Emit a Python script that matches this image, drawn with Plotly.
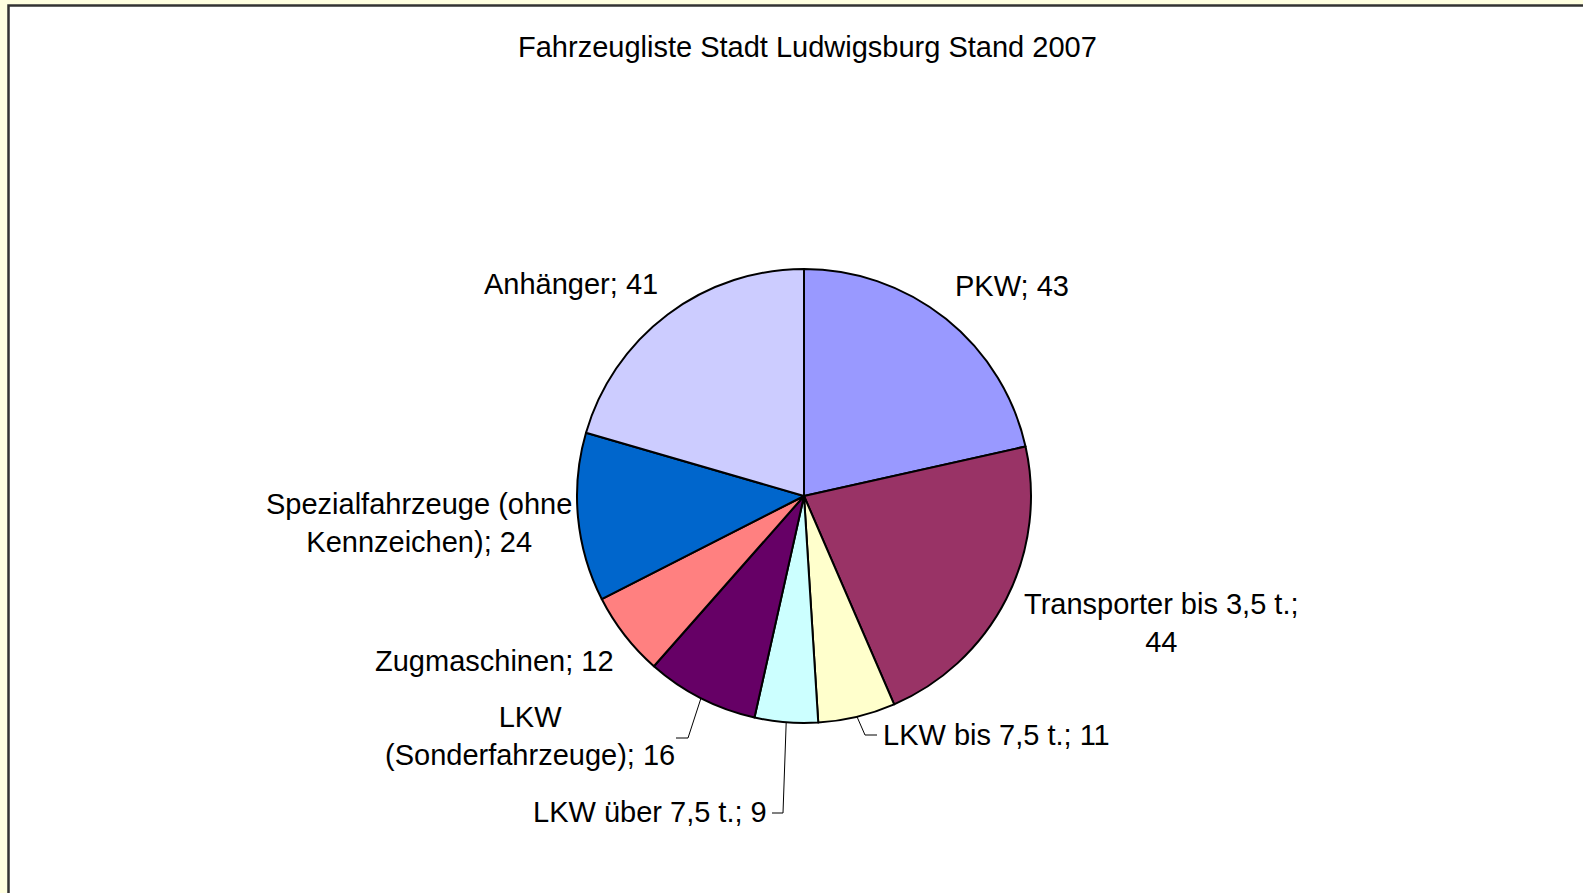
import math
import plotly.graph_objects as go

W, H = 1583, 893

categories = ["PKW", "Transporter bis 3,5 t.", "LKW bis 7,5 t.", "LKW über 7,5 t.",
              "LKW (Sonderfahrzeuge)", "Zugmaschinen", "Spezialfahrzeuge (ohne Kennzeichen)", "Anhänger"]
values = [43, 44, 11, 9, 16, 12, 24, 41]
label_texts = ["PKW; 43", "Transporter bis 3,5 t.;<br>44", "LKW bis 7,5 t.; 11", "LKW über 7,5 t.; 9",
               "LKW<br>(Sonderfahrzeuge); 16", "Zugmaschinen; 12", "Spezialfahrzeuge (ohne<br>Kennzeichen); 24",
               "Anhänger; 41"]
colors = ["#9999FF", "#993366", "#FFFFCC", "#CCFFFF", "#660066", "#FF8080", "#0066CC", "#CCCCFF"]
title = "Fahrzeugliste Stadt Ludwigsburg Stand 2007"

# pie geometry (pixels)
CX, CY, R = 804, 496, 227

def px(x):
    return x / W

def py(y):
    return 1 - y / H

# label anchor positions (pixels) and anchors
label_pos = [
    (953, 286, "left"),
    (1161, 623, "center"),
    (881, 735, "left"),
    (769, 812, "right"),
    (530, 736, "center"),
    (494, 661, "center"),
    (419, 523, "center"),
    (660, 284, "right"),
]
# leader line elbows (pixels) for small slices
leaders = {
    2: [(865, 735), (877, 735)],
    3: [(783, 813), (772, 813)],
    4: [(688, 738), (676, 738)],
}

fig = go.Figure()
fig.add_trace(go.Pie(
    labels=categories, values=values, sort=False, direction="clockwise", rotation=0,
    marker=dict(colors=colors, line=dict(color="black", width=2)),
    textinfo="none", hoverinfo="label+value", showlegend=False,
    domain=dict(x=[px(CX - R), px(CX + R)], y=[py(CY + R), py(CY - R)]),
))

FONT = "Liberation Sans, Arial, sans-serif"
FS = 29

annotations = [dict(text=title, x=px(807), y=py(47), xref="paper", yref="paper",
                    xanchor="center", yanchor="middle", showarrow=False,
                    font=dict(family=FONT, size=FS, color="black"))]
total = sum(values)
cum = 0
shapes = [dict(type="rect", xref="paper", yref="paper", x0=px(8.5), x1=1.05, y0=-0.05, y1=py(5.5),
               fillcolor="white", line=dict(color="#333333", width=2.5), layer="below")]
for i, v in enumerate(values):
    mid = (cum + v / 2) / total * 2 * math.pi
    cum += v
    x, y, anc = label_pos[i]
    annotations.append(dict(text=label_texts[i], x=px(x), y=py(y), xref="paper", yref="paper",
                            xanchor=anc, yanchor="middle", align="center", showarrow=False,
                            font=dict(family=FONT, size=FS, color="black")))
    if i in leaders:
        sx = CX + R * math.sin(mid)
        sy = CY - R * math.cos(mid)
        pts = [(sx, sy)] + leaders[i]
        path = "M " + " L ".join(f"{px(a)},{py(b)}" for a, b in pts)
        shapes.append(dict(type="path", xref="paper", yref="paper", path=path,
                           line=dict(color="black", width=1)))

fig.update_layout(
    width=W, height=H, margin=dict(l=0, r=0, t=0, b=0),
    paper_bgcolor="#FFFFE0", plot_bgcolor="white",
    annotations=annotations, shapes=shapes,
)
fig.write_html("out.html", config={"displayModeBar": False},
               post_script="document.body.style.margin='0';document.body.style.overflow='hidden';")
